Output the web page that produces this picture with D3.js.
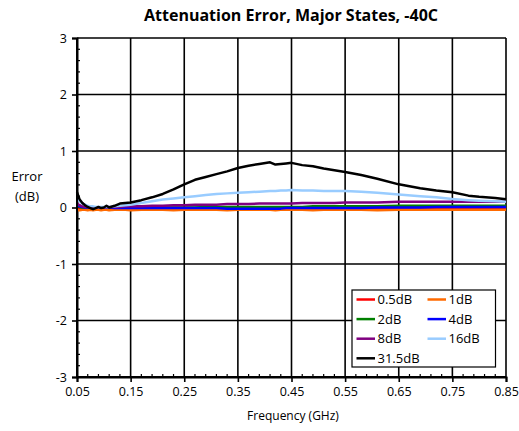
<!DOCTYPE html>
<html><head><meta charset="utf-8">
<script src="https://cdn.jsdelivr.net/npm/d3@7"></script>
<style>body{margin:0;background:#fff}svg{display:block}text{font-family:"Open Sans",Arial,sans-serif;fill:#000}</style>
</head><body><svg id="c" width="519" height="431"></svg>
<script>
const freq = [0.05,0.055,0.06,0.065,0.07,0.075,0.08,0.085,0.09,0.095,0.10,0.105,0.11,0.12,0.13,0.14,0.15,0.17,0.19,0.21,0.23,0.25,0.27,0.29,0.31,0.33,0.35,0.37,0.39,0.41,0.42,0.43,0.44,0.45,0.47,0.49,0.51,0.53,0.55,0.58,0.61,0.65,0.69,0.72,0.75,0.78,0.80,0.83,0.85];
const s05  = [-0.02,-0.03,-0.03,-0.03,-0.03,-0.03,-0.03,-0.03,-0.03,-0.03,-0.03,-0.03,-0.03,-0.03,-0.03,-0.03,-0.03,-0.03,-0.03,-0.03,-0.03,-0.03,-0.03,-0.03,-0.03,-0.03,-0.03,-0.03,-0.03,-0.03,-0.03,-0.03,-0.03,-0.03,-0.03,-0.03,-0.03,-0.03,-0.03,-0.03,-0.03,-0.03,-0.03,-0.03,-0.03,-0.03,-0.03,-0.03,-0.03];
const s1   = [-0.05,-0.05,-0.04,-0.04,-0.05,-0.04,-0.05,-0.04,-0.04,-0.05,-0.04,-0.04,-0.05,-0.04,-0.04,-0.04,-0.05,-0.04,-0.04,-0.04,-0.05,-0.04,-0.04,-0.04,-0.04,-0.05,-0.04,-0.04,-0.04,-0.04,-0.05,-0.04,-0.04,-0.04,-0.04,-0.05,-0.04,-0.04,-0.04,-0.04,-0.05,-0.04,-0.04,-0.04,-0.04,-0.04,-0.04,-0.04,-0.04];
const s2   = [0.03,0.01,0.0,0.0,0.0,0.0,0.0,0.0,0.0,0.0,0.0,0.0,0.0,0.0,0.0,0.0,0.0,0.0,0.0,0.0,0.0,0.0,0.0,0.01,0.01,0.01,0.01,0.01,0.01,0.01,0.01,0.01,0.01,0.01,0.01,0.02,0.02,0.02,0.02,0.02,0.02,0.03,0.03,0.03,0.03,0.03,0.03,0.03,0.03];
const s4   = [0.05,0.02,0.01,0.0,0.0,0.0,0.0,0.0,0.0,0.0,0.0,0.0,0.0,-0.01,-0.01,-0.01,-0.01,-0.01,-0.01,-0.01,-0.01,-0.01,-0.01,-0.01,-0.01,-0.02,-0.02,-0.02,-0.02,-0.02,-0.02,-0.02,-0.01,-0.01,-0.01,-0.01,-0.01,-0.01,-0.01,-0.01,0.0,0.0,0.0,0.01,0.01,0.01,0.01,0.01,0.01];
const s8   = [0.07,0.04,0.02,0.01,0.01,0.0,0.0,0.0,0.0,0.0,0.0,0.0,0.01,0.01,0.01,0.02,0.02,0.02,0.03,0.03,0.04,0.04,0.05,0.05,0.05,0.06,0.06,0.06,0.07,0.07,0.07,0.07,0.07,0.07,0.08,0.08,0.08,0.08,0.09,0.09,0.09,0.1,0.1,0.1,0.1,0.1,0.1,0.1,0.1];
const s16  = [0.18,0.11,0.07,0.05,0.03,0.02,0.02,0.01,0.01,0.01,0.01,0.01,0.01,0.02,0.03,0.04,0.05,0.08,0.11,0.14,0.16,0.18,0.2,0.22,0.24,0.25,0.26,0.27,0.28,0.29,0.29,0.3,0.3,0.31,0.3,0.3,0.29,0.29,0.29,0.28,0.26,0.23,0.2,0.18,0.15,0.13,0.12,0.11,0.1];
const s315 = [0.27,0.14,0.08,0.04,0.01,-0.01,-0.03,-0.01,0.01,-0.01,0.0,0.03,0.0,0.03,0.07,0.08,0.09,0.13,0.18,0.24,0.32,0.41,0.49,0.54,0.59,0.64,0.7,0.74,0.77,0.8,0.76,0.77,0.78,0.79,0.75,0.73,0.69,0.66,0.63,0.575,0.51,0.41,0.34,0.3,0.27,0.21,0.19,0.17,0.145];
const seriesNames = ["0.5dB","1dB","2dB","4dB","8dB","16dB","31.5dB"];
const seriesValues = [s05,s1,s2,s4,s8,s16,s315];
const seriesColors = ["#ff0000","#ff6a00","#008000","#0000ff","#800080","#99ccff","#000000"];
const xTicks = [0.05,0.15,0.25,0.35,0.45,0.55,0.65,0.75,0.85];
const yTicks = [-3,-2,-1,0,1,2,3];

const svg = d3.select("#c");
const L=77,R=506,T=38,B=377;
const x = d3.scaleLinear().domain([0.05,0.85]).range([L,R]);
const y = d3.scaleLinear().domain([-3,3]).range([B,T]);

// grid
svg.append("g").selectAll("line").data(xTicks).join("line")
  .attr("x1",d=>x(d)).attr("x2",d=>x(d)).attr("y1",T).attr("y2",B)
  .attr("stroke","#000").attr("stroke-width",1.6);
svg.append("g").selectAll("line").data(yTicks).join("line")
  .attr("x1",L).attr("x2",R).attr("y1",d=>y(d)).attr("y2",d=>y(d))
  .attr("stroke","#000").attr("stroke-width",1.6);

// minor ticks
const xMinor = d3.range(0,41).map(i=>0.05+i*0.02).filter((d,i)=>i%5!==0);
const yMinor = d3.range(0,31).map(i=>-3+i*0.2).filter((d,i)=>i%5!==0);
svg.append("g").selectAll("line").data(xMinor).join("line")
  .attr("x1",d=>x(d)).attr("x2",d=>x(d)).attr("y1",B).attr("y2",B-3)
  .attr("stroke","#000").attr("stroke-width",1.2);
svg.append("g").selectAll("line").data(yMinor).join("line")
  .attr("x1",L).attr("x2",L+3).attr("y1",d=>y(d)).attr("y2",d=>y(d))
  .attr("stroke","#000").attr("stroke-width",1.2);

// axes
const xAxis = svg.append("g").attr("transform",`translate(0,${B})`)
  .call(d3.axisBottom(x).tickValues(xTicks).tickFormat(d3.format(".2f")).tickSize(5).tickPadding(5));
const yAxis = svg.append("g").attr("transform",`translate(${L},0)`)
  .call(d3.axisLeft(y).tickValues(yTicks).tickFormat(d=>String(d)).tickSize(5).tickPadding(5));
[xAxis,yAxis].forEach(a=>{
  a.select(".domain").attr("stroke","#000").attr("stroke-width",2);
  a.selectAll(".tick line").attr("stroke","#000").attr("stroke-width",1.6);
  a.selectAll(".tick text").attr("font-size",12.5).attr("font-family","Open Sans, Arial, sans-serif").attr("fill","#000");
});

// lines
const line = d3.line().x((d,i)=>x(freq[i])).y(d=>y(d));
svg.append("g").selectAll("path").data(seriesValues).join("path")
  .attr("d",d=>line(d)).attr("fill","none")
  .attr("stroke",(d,i)=>seriesColors[i]).attr("stroke-width",2.5)
  .attr("stroke-linejoin","round");

// re-draw left/bottom domain on top
svg.append("line").attr("x1",L).attr("x2",L).attr("y1",T).attr("y2",B).attr("stroke","#000").attr("stroke-width",2);
svg.append("line").attr("x1",L).attr("x2",R).attr("y1",B).attr("y2",B).attr("stroke","#000").attr("stroke-width",2);

// title & labels
svg.append("text").attr("x",291).attr("y",21).attr("text-anchor","middle")
  .attr("font-size",16).attr("font-weight","bold").text("Attenuation Error, Major States, -40C");
svg.append("text").attr("x",293).attr("y",420).attr("text-anchor","middle")
  .attr("font-size",12).text("Frequency (GHz)");
svg.append("text").attr("x",27).attr("y",181).attr("text-anchor","middle").attr("font-size",13).text("Error");
svg.append("text").attr("x",27).attr("y",201).attr("text-anchor","middle").attr("font-size",13).text("(dB)");

// legend
const lg = svg.append("g");
lg.append("rect").attr("x",352).attr("y",290).attr("width",143.5).attr("height",77)
  .attr("fill","#fff").attr("stroke","#000").attr("stroke-width",1.2);
seriesNames.forEach((n,i)=>{
  const col=i%2, row=Math.floor(i/2);
  const lx = col===0?356.5:427.5, ly = 299.5+row*19.6;
  lg.append("line").attr("x1",lx).attr("x2",lx+18.5).attr("y1",ly).attr("y2",ly)
    .attr("stroke",seriesColors[i]).attr("stroke-width",2.5);
  lg.append("text").attr("x",lx+21).attr("y",ly+4.5).attr("font-size",13).text(n);
});
</script></body></html>
